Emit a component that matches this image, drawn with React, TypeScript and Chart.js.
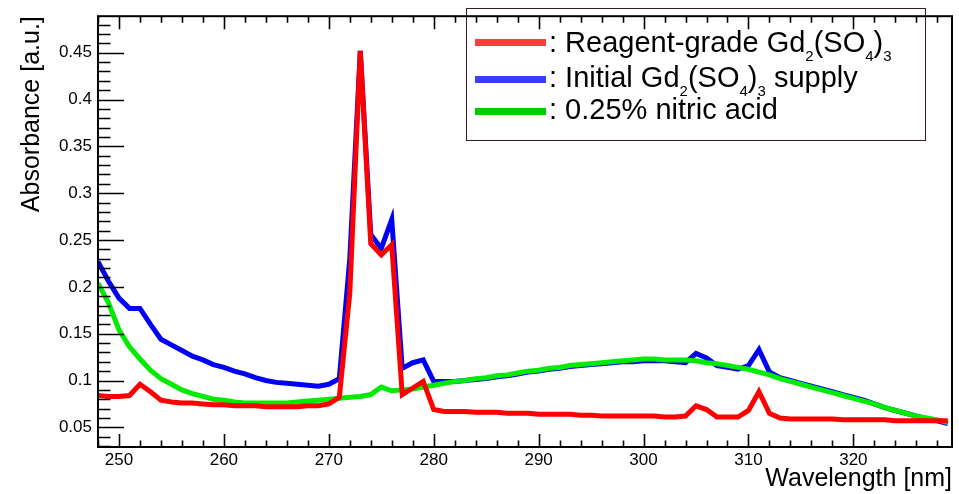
import React, { useEffect, useRef } from 'react';
import { Chart, registerables } from 'chart.js';

Chart.register(...registerables);

const wavelengths = [
  248, 249, 250, 251, 252, 253, 254, 255, 256, 257, 258, 259, 260, 261, 262, 263, 264, 265, 266, 267,
  268, 269, 270, 271, 272, 273, 274, 275, 276, 277, 278, 279, 280, 281, 282, 283, 284, 285, 286, 287,
  288, 289, 290, 291, 292, 293, 294, 295, 296, 297, 298, 299, 300, 301, 302, 303, 304, 305, 306, 307,
  308, 309, 310, 311, 312, 313, 314, 315, 316, 317, 318, 319, 320, 321, 322, 323, 324, 325, 326, 327,
  328, 329,
];

const reagentGrade = [
  0.084, 0.083, 0.083, 0.084, 0.096, 0.088, 0.079, 0.077, 0.076, 0.076, 0.075, 0.074, 0.074, 0.073, 0.073, 0.073, 0.072, 0.072, 0.072, 0.072,
  0.073, 0.073, 0.075, 0.082, 0.193, 0.452, 0.246, 0.234, 0.245, 0.085, 0.092, 0.099, 0.069, 0.067, 0.067, 0.067, 0.066, 0.066, 0.066, 0.065,
  0.065, 0.065, 0.064, 0.064, 0.064, 0.064, 0.063, 0.063, 0.062, 0.062, 0.062, 0.062, 0.062, 0.062, 0.061, 0.061, 0.062, 0.073, 0.069, 0.061,
  0.061, 0.061, 0.068, 0.088, 0.065, 0.060, 0.059, 0.059, 0.059, 0.059, 0.059, 0.058, 0.058, 0.058, 0.058, 0.058, 0.057, 0.057, 0.057, 0.057,
  0.057, 0.057,
];

const initialSupply = [
  0.227, 0.206, 0.188, 0.177, 0.177, 0.160, 0.144, 0.138, 0.132, 0.126, 0.122, 0.117, 0.114, 0.110, 0.107, 0.103, 0.100, 0.098, 0.097, 0.096,
  0.095, 0.094, 0.096, 0.102, 0.230, 0.452, 0.256, 0.241, 0.272, 0.113, 0.119, 0.122, 0.099, 0.099, 0.099, 0.100, 0.101, 0.102, 0.104, 0.105,
  0.107, 0.109, 0.110, 0.112, 0.113, 0.115, 0.116, 0.117, 0.118, 0.119, 0.120, 0.120, 0.121, 0.121, 0.121, 0.120, 0.119, 0.129, 0.124, 0.116,
  0.114, 0.112, 0.116, 0.133, 0.109, 0.103, 0.100, 0.097, 0.094, 0.091, 0.088, 0.085, 0.082, 0.079, 0.075, 0.071, 0.068, 0.065, 0.062, 0.059,
  0.057, 0.054,
];

const nitricAcid = [
  0.204, 0.183, 0.154, 0.136, 0.123, 0.111, 0.102, 0.096, 0.090, 0.086, 0.083, 0.080, 0.079, 0.077, 0.076, 0.076, 0.076, 0.076, 0.076, 0.077,
  0.078, 0.079, 0.080, 0.081, 0.082, 0.083, 0.085, 0.093, 0.089, 0.090, 0.091, 0.093, 0.095, 0.097, 0.099, 0.100, 0.102, 0.103, 0.105, 0.106,
  0.108, 0.110, 0.111, 0.113, 0.114, 0.116, 0.117, 0.118, 0.119, 0.120, 0.121, 0.122, 0.123, 0.123, 0.122, 0.122, 0.122, 0.121, 0.119, 0.118,
  0.116, 0.114, 0.112, 0.109, 0.106, 0.102, 0.099, 0.096, 0.093, 0.090, 0.087, 0.084, 0.081, 0.078, 0.075, 0.071, 0.068, 0.065, 0.062, 0.060,
  0.058, 0.055,
];

const xTickValues = [250, 260, 270, 280, 290, 300, 310, 320];
const xTickLabels = ['250', '260', '270', '280', '290', '300', '310', '320'];
const yTickValues = [0.05, 0.1, 0.15, 0.2, 0.25, 0.3, 0.35, 0.4, 0.45];
const yTickLabels = ['0.05', '0.1', '0.15', '0.2', '0.25', '0.3', '0.35', '0.4', '0.45'];

const X_MIN = 248;
const X_MAX = 329.4;
const Y_MIN = 0.029;
const Y_MAX = 0.489;

const FONT = "'Liberation Sans', Arial, Helvetica, sans-serif";

const framePlugin = {
  id: 'rootFrame',
  afterDatasetsDraw(chart: any) {
    const { ctx, chartArea: a, scales } = chart;
    const xs = scales.x;
    const ys = scales.y;
    ctx.save();
    ctx.strokeStyle = '#000';
    ctx.lineWidth = 1.6;
    ctx.beginPath();
    // y ticks (left, inward)
    for (let k = 3; k <= 48; k++) {
      const v = k / 100;
      const py = Math.round(ys.getPixelForValue(v)) + 0.5;
      const major = k % 5 === 0;
      ctx.moveTo(a.left, py);
      ctx.lineTo(a.left + (major ? 26 : 12.5), py);
    }
    // x ticks (bottom and top, inward)
    for (let w = 248; w <= 329; w += 2) {
      const px = Math.round(xs.getPixelForValue(w)) + 0.5;
      const major = w % 10 === 0;
      const len = major ? 13 : 6.5;
      ctx.moveTo(px, a.bottom);
      ctx.lineTo(px, a.bottom - len);
      ctx.moveTo(px, a.top);
      ctx.lineTo(px, a.top + len);
    }
    ctx.stroke();
    ctx.lineWidth = 2;
    ctx.strokeRect(a.left, a.top, a.right - a.left, a.bottom - a.top);
    ctx.restore();
  },
};

function Sub({ children }: { children: React.ReactNode }) {
  return (
    <span style={{ fontSize: 15, position: 'relative', top: 9, lineHeight: 0 }}>{children}</span>
  );
}

export default function App() {
  const canvasRef = useRef<HTMLCanvasElement | null>(null);

  useEffect(() => {
    if (!canvasRef.current) return;
    const mk = (vals: number[]) => wavelengths.map((w, i) => ({ x: w, y: vals[i] }));
    const chart = new Chart(canvasRef.current, {
      type: 'line',
      data: {
        datasets: [
          {
            label: 'Reagent-grade Gd2(SO4)3',
            data: mk(reagentGrade),
            borderColor: 'rgb(255,0,0)',
            borderWidth: 5,
            order: 0,
            clip: 0,
          },
          {
            label: '0.25% nitric acid',
            data: mk(nitricAcid),
            borderColor: 'rgb(0,235,0)',
            borderWidth: 5,
            order: 1,
            clip: 0,
          },
          {
            label: 'Initial Gd2(SO4)3 supply',
            data: mk(initialSupply),
            borderColor: 'rgb(0,0,245)',
            borderWidth: 5,
            order: 2,
            clip: 0,
          },
        ],
      },
      options: {
        responsive: false,
        animation: false,
        layout: { padding: { top: 7, right: 7, left: 0, bottom: 0 } },
        elements: { point: { radius: 0 }, line: { tension: 0, borderJoinStyle: 'miter' } },
        plugins: { legend: { display: false }, tooltip: { enabled: false } },
        scales: {
          x: {
            type: 'linear',
            min: X_MIN,
            max: X_MAX,
            grid: { display: false, drawTicks: false },
            border: { display: false },
            afterBuildTicks: (s: any) => {
              s.ticks = xTickValues.map((v) => ({ value: v }));
            },
            afterFit: (s: any) => {
              s.height = 47;
            },
            ticks: {
              autoSkip: false,
              maxRotation: 0,
              padding: 3,
              color: '#000',
              font: { family: FONT, size: 17 },
              callback: (v: any) => {
                const i = xTickValues.indexOf(Number(v));
                return i >= 0 ? xTickLabels[i] : '';
              },
            },
            title: {
              display: true,
              text: 'Wavelength [nm]',
              align: 'end',
              color: '#000',
              font: { family: FONT, size: 25 },
              padding: { top: 0, bottom: 0 },
            },
          },
          y: {
            type: 'linear',
            min: Y_MIN,
            max: Y_MAX,
            grid: { display: false, drawTicks: false },
            border: { display: false },
            afterBuildTicks: (s: any) => {
              s.ticks = yTickValues.map((v) => ({ value: v }));
            },
            afterFit: (s: any) => {
              s.width = 98;
            },
            ticks: {
              autoSkip: false,
              padding: 6,
              color: '#000',
              font: { family: FONT, size: 17 },
              callback: (v: any) => {
                const i = yTickValues.findIndex((t) => Math.abs(t - Number(v)) < 1e-9);
                return i >= 0 ? yTickLabels[i] : '';
              },
            },
            title: {
              display: true,
              text: 'Absorbance [a.u.]',
              align: 'end',
              color: '#000',
              font: { family: FONT, size: 25 },
              padding: { top: 17, bottom: 0 },
            },
          },
        },
      },
      plugins: [framePlugin],
    } as any);
    return () => chart.destroy();
  }, []);

  const rowText: React.CSSProperties = {
    position: 'absolute',
    left: 82,
    fontFamily: FONT,
    fontSize: 29,
    lineHeight: '32px',
    color: '#000',
    whiteSpace: 'nowrap',
  };
  const sample = (color: string, cy: number): React.CSSProperties => ({
    position: 'absolute',
    left: 8,
    width: 71,
    height: 7,
    top: cy - 3.5,
    background: color,
  });

  return (
    <div style={{ position: 'absolute', left: 0, top: 0, width: 959, height: 494, background: '#fff' }}>
      <canvas ref={canvasRef} width={959} height={494} style={{ width: 959, height: 494, display: 'block' }} />
      <div
        style={{
          position: 'absolute',
          left: 466,
          top: 8,
          width: 460,
          height: 133,
          border: '1px solid #3a1a2a',
          boxSizing: 'border-box',
        }}
      >
        <div style={sample('rgb(255,60,60)', 33.5)} />
        <div style={{ ...rowText, top: 16.7 }}>
          : Reagent-grade Gd<Sub>2</Sub>(SO<Sub>4</Sub>)<Sub>3</Sub>
        </div>
        <div style={sample('rgb(60,60,255)', 70)} />
        <div style={{ ...rowText, top: 52.3 }}>
          : Initial Gd<Sub>2</Sub>(SO<Sub>4</Sub>)<Sub>3</Sub> supply
        </div>
        <div style={sample('rgb(0,205,0)', 102.5)} />
        <div style={{ ...rowText, top: 84.3 }}>: 0.25% nitric acid</div>
      </div>
    </div>
  );
}
